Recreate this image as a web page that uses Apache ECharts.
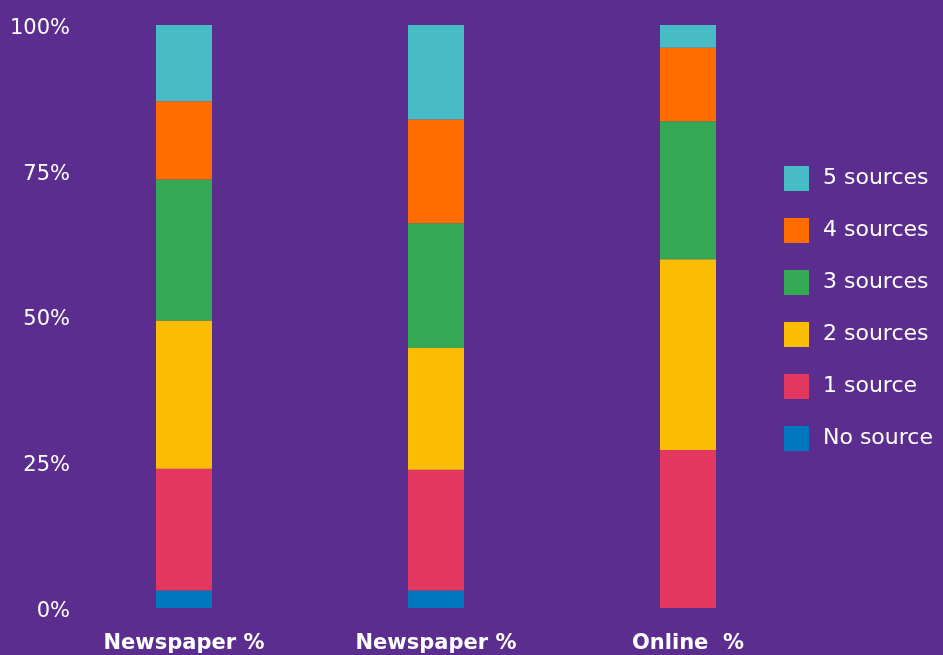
<!DOCTYPE html>
<html>
<head>
    <meta charset="UTF-8">
    <title>sources per story</title>
    <style>
        html, body {
            height: 100%;
            margin: 0;
            padding: 0;
            background: #5b2d8e;
        }
        #chart-container {
            width: 943px;
            height: 655px;
        }
    </style>
</head>
<body>
<div id="chart-container"></div>

<script src="https://cdn.jsdelivr.net/npm/echarts@6/dist/echarts.min.js"></script>
<script>
    // categories and stacked shares (%)
    const categories = ['Newspaper %', 'Newspaper %', 'Online  %'];
    const seriesNames = ['No source', '1 source', '2 sources', '3 sources', '4 sources', '5 sources'];
    const noSource = [3.0, 3.0, 0];
    const oneSource = [20.9, 20.7, 27.1];
    const twoSources = [25.4, 20.9, 32.7];
    const threeSources = [24.2, 21.4, 23.7];
    const fourSources = [13.4, 17.8, 12.6];
    const fiveSources = [13.1, 16.2, 3.9];
    const yTicks = ['0%', '25%', '50%', '75%', '100%'];

    const colors = ['#0077be', '#e23860', '#fbbc04', '#34a853', '#ff6d00', '#47bbc6'];
    const values = [noSource, oneSource, twoSources, threeSources, fourSources, fiveSources];

    const chart = echarts.init(document.getElementById('chart-container'));

    const option = {
        backgroundColor: '#5b2d8e',
        textStyle: { fontFamily: 'DejaVu Sans' },
        grid: {
            left: 58,
            width: 756,
            top: 25,
            bottom: 47
        },
        legend: {
            orient: 'vertical',
            left: 779,
            top: 161,
            itemWidth: 25,
            itemHeight: 25,
            itemGap: 27,
            icon: 'rect',
            data: seriesNames.slice().reverse(),
            textStyle: {
                color: '#ffffff',
                fontSize: 22,
                padding: [2, 0, 0, 9]
            }
        },
        xAxis: {
            type: 'category',
            data: categories,
            axisLine: { show: false },
            axisTick: { show: false },
            axisLabel: {
                color: '#ffffff',
                fontSize: 21,
                fontWeight: 'bold',
                margin: 25
            }
        },
        yAxis: {
            type: 'value',
            min: 0,
            max: 100,
            interval: 25,
            splitLine: { show: false },
            axisLine: { show: false },
            axisTick: { show: false },
            axisLabel: {
                margin: -12,
                formatter: function (v) { return '{t|' + yTicks[v / 25] + '}'; },
                rich: {
                    t: {
                        color: '#ffffff',
                        fontSize: 21,
                        fontFamily: 'DejaVu Sans',
                        padding: [7, 0, 0, 0]
                    }
                }
            }
        },
        series: seriesNames.map(function (name, i) {
            return {
                name: name,
                type: 'bar',
                stack: 'total',
                barWidth: 56,
                itemStyle: { color: colors[i] },
                data: values[i]
            };
        })
    };

    chart.setOption(option);
</script>
</body>
</html>
